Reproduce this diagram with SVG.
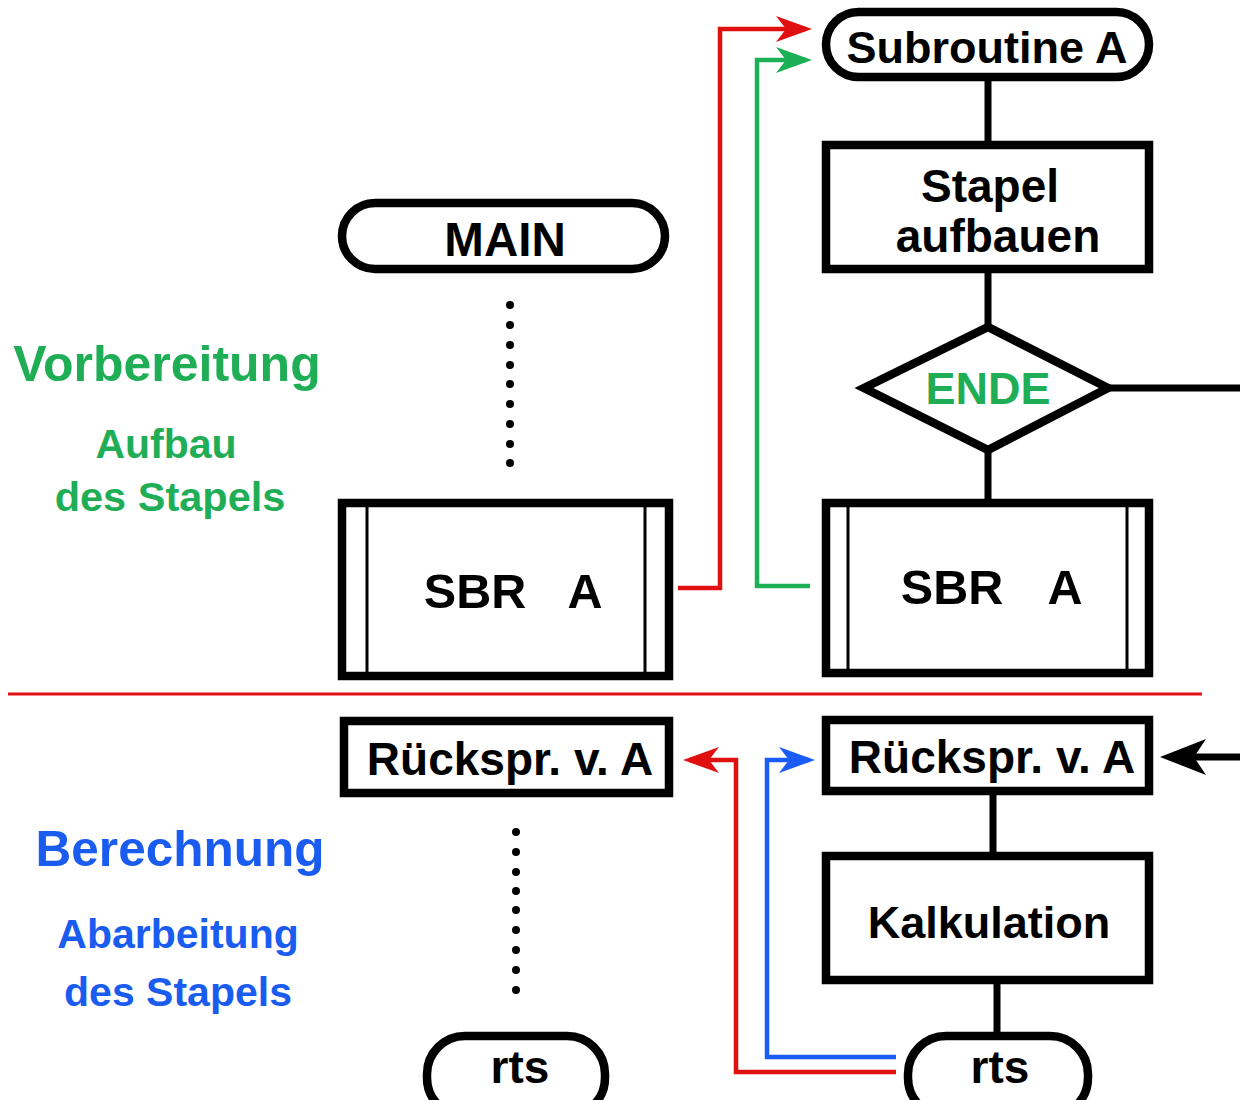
<svg xmlns="http://www.w3.org/2000/svg" width="1240" height="1100" viewBox="0 0 1240 1100">
<defs>
<style>
.box{fill:#fff;stroke:#000;stroke-width:8.5}
.inner{stroke:#000;stroke-width:3}
.t{font-family:"Liberation Sans",Arial,sans-serif;font-weight:bold;text-anchor:middle;fill:#000}
.blk{stroke:#000;stroke-width:7;fill:none}
.red{stroke:#e01010;stroke-width:4.5;fill:none}
.grn{stroke:#1bb055;stroke-width:4.5;fill:none}
.blu{stroke:#1a5cf5;stroke-width:4.5;fill:none}
.dot{fill:#000}
.g{fill:#1fae55}
.b{fill:#1a5cf0}
</style>
<marker id="aRed" viewBox="0 -15 40 30" markerWidth="40" markerHeight="30" refX="30" refY="0" orient="auto" markerUnits="userSpaceOnUse"><path d="M36,0 L0,-13 L10,0 L0,13 Z" fill="#e01010"/></marker>
<marker id="aGrn" viewBox="0 -15 40 30" markerWidth="40" markerHeight="30" refX="30" refY="0" orient="auto" markerUnits="userSpaceOnUse"><path d="M36,0 L0,-13 L10,0 L0,13 Z" fill="#1bb055"/></marker>
<marker id="aBlu" viewBox="0 -15 40 30" markerWidth="40" markerHeight="30" refX="30" refY="0" orient="auto" markerUnits="userSpaceOnUse"><path d="M36,0 L0,-13 L10,0 L0,13 Z" fill="#1a5cf5"/></marker>
<marker id="aBlk" viewBox="0 -20 50 40" markerWidth="50" markerHeight="40" refX="36" refY="0" orient="auto" markerUnits="userSpaceOnUse"><path d="M46,0 L0,-18 L12,0 L0,18 Z" fill="#000"/></marker>
</defs>
<rect width="1240" height="1100" fill="#fff"/>

<g id="connectors">
<line class="blk" x1="988" y1="77" x2="988" y2="145"/>
<line class="blk" x1="988" y1="269" x2="988" y2="327"/>
<line class="blk" x1="1108" y1="388" x2="1240" y2="388"/>
<line class="blk" x1="988" y1="450" x2="988" y2="503"/>
<line class="blk" x1="993" y1="791" x2="993" y2="856"/>
<line class="blk" x1="997" y1="980" x2="997" y2="1036"/>
<line class="blk" x1="1240" y1="757" x2="1170" y2="757" marker-end="url(#aBlk)"/>
<path class="red" d="M678,588 H720 V29 H806" marker-end="url(#aRed)"/>
<path class="grn" d="M810,586 H757 V60 H806" marker-end="url(#aGrn)"/>
<path class="red" d="M896,1072 H736 V760 H689" marker-end="url(#aRed)"/>
<path class="blu" d="M896,1057 H767 V760 H809" marker-end="url(#aBlu)"/>
<line x1="8" y1="694" x2="1202" y2="694" stroke="#e01010" stroke-width="3"/>
</g>

<g id="subroutineA">
<rect class="box" x="826" y="12" width="323" height="65" rx="32.5"/>
<text class="t" x="987" y="63" font-size="45">Subroutine A</text>
</g>
<g id="main">
<rect class="box" x="342" y="203" width="323" height="66" rx="33"/>
<text class="t" x="505" y="256" font-size="47.5">MAIN</text>
</g>
<g id="stapelAufbauen">
<rect class="box" x="826" y="145" width="323" height="124"/>
<text class="t" x="990" y="202" font-size="46">Stapel</text>
<text class="t" x="998" y="252" font-size="46">aufbauen</text>
</g>
<g id="ende">
<polygon class="box" points="988,327 1108,388 988,450 864,388"/>
<text class="t g" x="988" y="404" font-size="45">ENDE</text>
</g>
<g id="sbrLeft">
<rect class="box" x="342" y="503" width="327" height="173"/>
<line class="inner" x1="367" y1="503" x2="367" y2="676"/>
<line class="inner" x1="645" y1="503" x2="645" y2="676"/>
<text class="t" y="608" font-size="48.5"><tspan x="475">SBR</tspan><tspan x="585">A</tspan></text>
</g>
<g id="sbrRight">
<rect class="box" x="826" y="503" width="323" height="170"/>
<line class="inner" x1="848" y1="503" x2="848" y2="673"/>
<line class="inner" x1="1127" y1="503" x2="1127" y2="673"/>
<text class="t" y="604" font-size="48.5"><tspan x="952">SBR</tspan><tspan x="1065">A</tspan></text>
</g>
<g id="dotsTop">
<circle class="dot" cx="510" cy="305" r="4"/><circle class="dot" cx="510" cy="325" r="4"/><circle class="dot" cx="510" cy="345" r="4"/>
<circle class="dot" cx="510" cy="365" r="4"/><circle class="dot" cx="510" cy="384" r="4"/><circle class="dot" cx="510" cy="404" r="4"/>
<circle class="dot" cx="510" cy="424" r="4"/><circle class="dot" cx="510" cy="444" r="4"/><circle class="dot" cx="510" cy="463" r="4"/>
</g>
<g id="rueckLeft">
<rect class="box" x="344" y="721" width="325" height="72"/>
<text class="t" x="510" y="775" font-size="46">Rückspr. v. A</text>
</g>
<g id="rueckRight">
<rect class="box" x="826" y="720" width="323" height="71"/>
<text class="t" x="992" y="773" font-size="46">Rückspr. v. A</text>
</g>
<g id="kalkulation">
<rect class="box" x="826" y="856" width="323" height="124"/>
<text class="t" x="989" y="938" font-size="45">Kalkulation</text>
</g>
<g id="dotsBottom">
<circle class="dot" cx="516" cy="832" r="4"/><circle class="dot" cx="516" cy="852" r="4"/><circle class="dot" cx="516" cy="872" r="4"/>
<circle class="dot" cx="516" cy="891" r="4"/><circle class="dot" cx="516" cy="910" r="4"/><circle class="dot" cx="516" cy="930" r="4"/>
<circle class="dot" cx="516" cy="950" r="4"/><circle class="dot" cx="516" cy="970" r="4"/><circle class="dot" cx="516" cy="990" r="4"/>
</g>
<g id="rtsLeft">
<rect class="box" x="427" y="1036" width="178" height="80" rx="38"/>
<text class="t" x="520" y="1083" font-size="46">rts</text>
</g>
<g id="rtsRight">
<rect class="box" x="908" y="1036" width="180" height="80" rx="38"/>
<text class="t" x="1000" y="1083" font-size="46">rts</text>
</g>
<g id="labelVorbereitung">
<text class="t g" x="167" y="381" font-size="50">Vorbereitung</text>
<text class="t g" x="166" y="458" font-size="41">Aufbau</text>
<text class="t g" x="170" y="511" font-size="41.5">des Stapels</text>
</g>
<g id="labelBerechnung">
<text class="t b" x="180" y="866" font-size="49.5">Berechnung</text>
<text class="t b" x="178" y="948" font-size="41">Abarbeitung</text>
<text class="t b" x="178" y="1006" font-size="41">des Stapels</text>
</g>
</svg>
